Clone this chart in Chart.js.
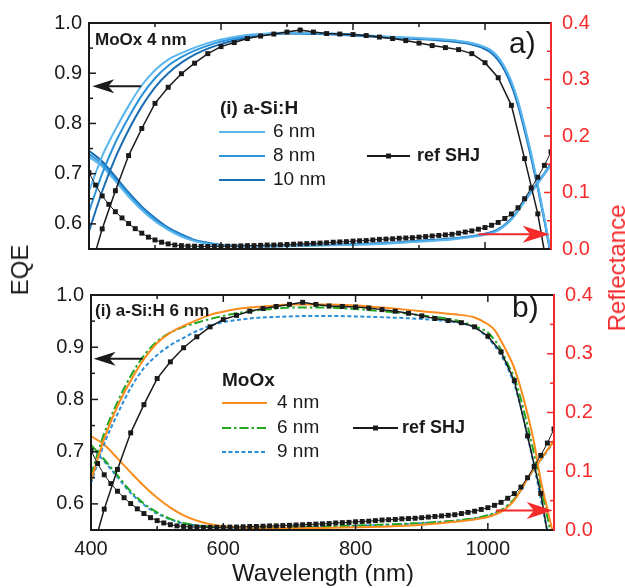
<!DOCTYPE html>
<html>
<head>
<meta charset="utf-8">
<script src="https://cdn.jsdelivr.net/npm/chart.js@4.4.1/dist/chart.umd.min.js"></script>
<style>
  body { margin: 0; background: #fff; }
  #wrap { position: relative; width: 625px; height: 588px; overflow: hidden; font-family: "Liberation Sans", Arial, sans-serif; }
  canvas { position: absolute; left: 0; }
  #chartA { top: 0; }
  #chartB { top: 272px; }
  .title { position: absolute; font-size: 24px; color: #1a1a1a; white-space: nowrap; transform: translate(-50%, -50%); }
  .rot { transform: translate(-50%, -50%) rotate(-90deg); }
</style>
</head>
<body>
<div id="wrap">
  <canvas id="chartA" width="625" height="272"></canvas>
  <canvas id="chartB" width="625" height="316"></canvas>
  <div class="title rot" style="left:20px; top:270px;">EQE</div>
  <div class="title rot" style="left:617px; top:268px; color:#f52a2a;">Reflectance</div>
  <div class="title" style="left:323px; top:573px;">Wavelength (nm)</div>
</div>
<script>
const INK = "#1a1a1a";
const RED = "#f52a2a";
const FONT = "'Liberation Sans', Arial, sans-serif";
Chart.defaults.font.family = FONT;

// tick labels
const wlTicks = [400, 600, 800, 1000];
const eqeTicks = [0.6, 0.7, 0.8, 0.9, 1.0];
const reflTicks = [0, 0.1, 0.2, 0.3, 0.4];
const wlMarks = [500, 600, 700, 800, 900, 1000];
const eqeMarks = [0.6, 0.65, 0.7, 0.75, 0.8, 0.85, 0.9, 0.95];
const reflMarks = [0.05, 0.1, 0.15, 0.2, 0.25, 0.3, 0.35];

// reference SHJ cell (same in both panels)
const wlRefEqe = [400,420,440,460,480,500,520,540,560,580,600,620,640,660,680,700,720,740,760,780,800,820,840,860,880,900,920,940,960,980,1000,1020,1040,1060,1080,1100];
const refEqe = [0.50,0.59,0.666,0.736,0.79,0.84,0.872,0.899,0.92,0.939,0.953,0.961,0.969,0.974,0.978,0.982,0.986,0.982,0.979,0.978,0.977,0.975,0.972,0.969,0.965,0.96,0.955,0.951,0.947,0.939,0.921,0.891,0.836,0.73,0.62,0.47];
const wlRefR = [400,410,420,430,440,450,460,470,480,490,500,510,520,530,540,550,560,570,580,590,600,610,620,630,640,650,660,670,680,690,700,710,720,730,740,750,760,770,780,790,800,810,820,830,840,850,860,870,880,890,900,910,920,930,940,950,960,970,980,990,1000,1010,1020,1030,1040,1050,1060,1070,1080,1090,1100];
const refR = [0.135,0.113,0.094,0.079,0.066,0.055,0.045,0.036,0.028,0.021,0.016,0.012,0.009,0.007,0.006,0.005,0.005,0.0045,0.0045,0.0045,0.0045,0.005,0.005,0.0055,0.006,0.006,0.0065,0.007,0.007,0.0075,0.008,0.0085,0.009,0.0095,0.01,0.0105,0.011,0.012,0.0125,0.013,0.014,0.0145,0.015,0.016,0.017,0.0175,0.018,0.019,0.0195,0.02,0.021,0.022,0.023,0.024,0.025,0.026,0.028,0.03,0.032,0.035,0.038,0.042,0.047,0.054,0.062,0.073,0.089,0.108,0.127,0.148,0.172];

// wavelengths of the sample curves
const wl = [400,420,440,460,480,500,520,540,560,580,600,620,640,660,680,700,750,800,850,900,950,980,1000,1010,1020,1030,1040,1050,1060,1070,1080,1090,1100];

// panel a) MoOx 4 nm, (i) a-Si:H 6 / 8 / 10 nm
const namesA = ["6 nm", "8 nm", "10 nm"];
const a6Eqe = [0.665,0.735,0.788,0.835,0.876,0.906,0.927,0.94,0.951,0.96,0.967,0.972,0.976,0.978,0.98,0.981,0.98,0.977,0.973,0.97,0.966,0.96,0.952,0.945,0.932,0.912,0.884,0.845,0.795,0.74,0.678,0.612,0.542];
const a8Eqe = [0.625,0.70,0.762,0.812,0.856,0.89,0.915,0.932,0.945,0.955,0.963,0.969,0.974,0.977,0.979,0.98,0.979,0.976,0.972,0.969,0.965,0.959,0.951,0.943,0.93,0.91,0.881,0.842,0.792,0.737,0.675,0.609,0.539];
const a10Eqe = [0.585,0.665,0.732,0.787,0.834,0.872,0.9,0.921,0.937,0.949,0.958,0.965,0.971,0.975,0.978,0.979,0.978,0.975,0.971,0.968,0.963,0.957,0.948,0.94,0.926,0.905,0.876,0.836,0.786,0.731,0.671,0.606,0.536];
const a6R = [0.163,0.146,0.12,0.093,0.069,0.049,0.034,0.022,0.014,0.009,0.0065,0.005,0.0045,0.0045,0.0045,0.005,0.006,0.0075,0.0095,0.013,0.017,0.021,0.025,0.028,0.033,0.041,0.052,0.067,0.084,0.1,0.116,0.132,0.148];
const a8R = [0.168,0.15,0.124,0.097,0.072,0.052,0.036,0.024,0.015,0.01,0.007,0.0055,0.005,0.005,0.005,0.0055,0.0065,0.008,0.01,0.014,0.018,0.022,0.026,0.029,0.034,0.042,0.053,0.068,0.085,0.101,0.117,0.133,0.15];
const a10R = [0.174,0.155,0.128,0.1,0.075,0.055,0.038,0.026,0.016,0.011,0.0075,0.006,0.0055,0.0055,0.0055,0.006,0.007,0.0085,0.0105,0.0145,0.0185,0.0225,0.027,0.03,0.035,0.043,0.054,0.069,0.086,0.102,0.118,0.134,0.151];

// panel b) (i) a-Si:H 6 nm, MoOx 4 / 6 / 9 nm
const namesB = ["4 nm", "6 nm", "9 nm"];
const b4Eqe = [0.645,0.725,0.787,0.836,0.877,0.908,0.928,0.941,0.952,0.962,0.968,0.973,0.976,0.978,0.98,0.982,0.982,0.98,0.975,0.969,0.963,0.957,0.944,0.933,0.912,0.888,0.86,0.82,0.772,0.716,0.645,0.59,0.535];
const b6Eqe = [0.655,0.735,0.795,0.845,0.884,0.911,0.928,0.939,0.947,0.954,0.96,0.965,0.969,0.972,0.974,0.976,0.976,0.973,0.968,0.961,0.952,0.94,0.928,0.914,0.895,0.868,0.842,0.8,0.75,0.695,0.635,0.575,0.515];
const b9Eqe = [0.64,0.715,0.772,0.822,0.86,0.885,0.904,0.918,0.931,0.941,0.948,0.952,0.955,0.957,0.958,0.959,0.96,0.959,0.957,0.954,0.948,0.938,0.918,0.903,0.885,0.86,0.828,0.785,0.73,0.672,0.61,0.548,0.49];
const b4R = [0.16,0.145,0.122,0.098,0.075,0.055,0.038,0.025,0.016,0.01,0.0065,0.0045,0.0035,0.003,0.003,0.003,0.0035,0.0045,0.006,0.009,0.014,0.018,0.022,0.026,0.031,0.039,0.051,0.068,0.088,0.105,0.12,0.136,0.152];
const b6R = [0.145,0.12,0.093,0.066,0.045,0.03,0.019,0.012,0.008,0.0055,0.0045,0.004,0.004,0.004,0.0045,0.005,0.006,0.0075,0.0095,0.012,0.016,0.02,0.025,0.029,0.034,0.042,0.053,0.069,0.088,0.105,0.12,0.136,0.152];
const b9R = [0.142,0.117,0.09,0.063,0.043,0.028,0.018,0.011,0.0075,0.005,0.004,0.0035,0.0035,0.0035,0.004,0.0045,0.0055,0.007,0.009,0.0115,0.0155,0.0195,0.024,0.028,0.033,0.041,0.052,0.068,0.087,0.104,0.119,0.135,0.151];

const blues = ["#5cb6ee", "#2b93dc", "#1b6db3"];
const moColors = ["#fb8c1c", "#22a722", "#2b8fd8"];
const moDash = [[], [9, 3, 2.5, 3], [4, 2.5]];

const pts = (xs, ys) => xs.map((x, i) => ({ x, y: ys[i] }));

function curve(xs, ys, axis, color, dash) {
  return {
    data: pts(xs, ys), yAxisID: axis, borderColor: color, borderWidth: 2,
    borderDash: dash || [], pointRadius: 0, cubicInterpolationMode: "monotone", fill: false
  };
}
function refSet(xs, ys, axis, width) {
  return {
    data: pts(xs, ys), yAxisID: axis, borderColor: INK, borderWidth: width,
    pointStyle: "rect", pointRadius: 3.5, pointBackgroundColor: INK, pointBorderWidth: 0, fill: false
  };
}

function line(ctx, x1, y1, x2, y2) {
  ctx.beginPath(); ctx.moveTo(x1, y1); ctx.lineTo(x2, y2); ctx.stroke();
}

function arrow(ctx, x1, x2, y, color, len, h) {
  const d = Math.sign(x2 - x1);
  ctx.strokeStyle = color; ctx.fillStyle = color; ctx.lineWidth = 2;
  line(ctx, x1, y, x2 - d * len * 0.6, y);
  ctx.beginPath();
  ctx.moveTo(x2, y);
  ctx.lineTo(x2 - d * len, y - h / 2);
  ctx.lineTo(x2 - d * len * 0.72, y);
  ctx.lineTo(x2 - d * len, y + h / 2);
  ctx.closePath();
  ctx.fill();
}

// box with inward ticks, right side red
const frame = {
  id: "frame",
  afterDatasetsDraw(chart) {
    const { ctx, chartArea: a, scales } = chart;
    ctx.save();
    ctx.lineWidth = 1.5;
    ctx.strokeStyle = INK;
    wlMarks.forEach(v => {
      const p = scales.x.getPixelForValue(v);
      const len = v % 200 === 0 ? 7 : 4;
      line(ctx, p, a.bottom, p, a.bottom - len);
      line(ctx, p, a.top, p, a.top + len);
    });
    eqeMarks.forEach(v => {
      const p = scales.y.getPixelForValue(v);
      const len = Math.round(v * 100) % 10 === 0 ? 7 : 4;
      line(ctx, a.left, p, a.left + len, p);
    });
    ctx.strokeStyle = RED;
    reflMarks.forEach(v => {
      const p = scales.y1.getPixelForValue(v);
      const len = Math.round(v * 100) % 10 === 0 ? 7 : 4;
      line(ctx, a.right, p, a.right - len, p);
    });
    ctx.lineWidth = 2;
    ctx.strokeStyle = INK;
    ctx.beginPath();
    ctx.moveTo(a.right, a.top); ctx.lineTo(a.left, a.top);
    ctx.lineTo(a.left, a.bottom); ctx.lineTo(a.right, a.bottom);
    ctx.stroke();
    ctx.strokeStyle = RED;
    line(ctx, a.right, a.top - 1, a.right, a.bottom + 1);
    ctx.restore();
  }
};

// labels, legend keys and arrows
const notes = {
  id: "notes",
  afterDatasetsDraw(chart, args, o) {
    const { ctx, chartArea: a, scales } = chart;
    const L = a.left, T = a.top;
    ctx.save();
    ctx.textBaseline = "middle";
    ctx.textAlign = "left";
    o.texts.forEach(t => {
      ctx.font = t.font + " " + FONT;
      ctx.fillStyle = INK;
      ctx.fillText(t.t, L + t.dx, T + t.dy);
    });
    o.keys.forEach(k => {
      ctx.strokeStyle = k.color; ctx.lineWidth = 2;
      ctx.setLineDash(k.dash || []);
      line(ctx, L + k.x1, T + k.dy, L + k.x2, T + k.dy);
      ctx.setLineDash([]);
      if (k.marker) {
        ctx.fillStyle = k.color;
        ctx.fillRect(L + (k.x1 + k.x2) / 2 - 2.5, T + k.dy - 2.5, 5, 5);
      }
    });
    o.arrows.forEach(w => {
      arrow(ctx, scales.x.getPixelForValue(w.from), scales.x.getPixelForValue(w.to),
        scales[w.axis].getPixelForValue(w.at), w.color, w.len, w.h);
    });
    ctx.restore();
  }
};

function makeChart(id, datasets, cfg) {
  return new Chart(document.getElementById(id), {
    type: "line",
    data: { datasets },
    options: {
      responsive: false,
      animation: false,
      events: [],
      layout: { padding: cfg.pad },
      plugins: { legend: { display: false }, tooltip: { enabled: false }, notes: cfg.notes },
      scales: {
        x: {
          type: "linear", min: 400, max: 1100, display: cfg.showX,
          grid: { display: false, drawTicks: false }, border: { display: false },
          afterBuildTicks: s => { s.ticks = wlTicks.map(v => ({ value: v })); },
          ticks: { font: { size: 20 }, color: INK, padding: 7, maxRotation: 0, callback: v => String(v) },
          afterFit: s => { s.height = cfg.xH; }
        },
        y: {
          position: "left", min: 0.55, max: 1.0,
          grid: { display: false, drawTicks: false }, border: { display: false },
          afterBuildTicks: s => { s.ticks = eqeTicks.map(v => ({ value: v })); },
          ticks: { font: { size: 20 }, color: INK, padding: 7, callback: v => v.toFixed(1) },
          afterFit: s => { s.width = cfg.left; }
        },
        y1: {
          position: "right", min: 0, max: 0.4,
          grid: { display: false, drawTicks: false }, border: { display: false },
          afterBuildTicks: s => { s.ticks = reflTicks.map(v => ({ value: v })); },
          ticks: { font: { size: 20 }, color: RED, padding: 11, callback: v => v.toFixed(1) },
          afterFit: s => { s.width = cfg.right; }
        }
      }
    },
    plugins: [frame, notes]
  });
}

// panel a)
makeChart("chartA", [
  refSet(wlRefEqe, refEqe, "y", 1.5),
  refSet(wlRefR, refR, "y1", 1),
  curve(wl, a6Eqe, "y", blues[0]),
  curve(wl, a8Eqe, "y", blues[1]),
  curve(wl, a10Eqe, "y", blues[2]),
  curve(wl, a6R, "y1", blues[0]),
  curve(wl, a8R, "y1", blues[1]),
  curve(wl, a10R, "y1", blues[2])
], {
  pad: { top: 16, bottom: 6, left: 0, right: 0 },
  showX: false, xH: 0, left: 89, right: 74,
  notes: {
    texts: [
      { t: "MoOx 4 nm", dx: 6, dy: 17, font: "bold 17px" },
      { t: "a)", dx: 420, dy: 22, font: "30px" },
      { t: "(i) a-Si:H", dx: 131, dy: 86, font: "bold 19px" },
      { t: namesA[0], dx: 184, dy: 109, font: "19px" },
      { t: namesA[1], dx: 184, dy: 133, font: "19px" },
      { t: namesA[2], dx: 184, dy: 157, font: "19px" },
      { t: "ref SHJ", dx: 328, dy: 133, font: "bold 18px" }
    ],
    keys: [
      { x1: 130, x2: 176, dy: 109, color: blues[0] },
      { x1: 130, x2: 176, dy: 133, color: blues[1] },
      { x1: 130, x2: 176, dy: 157, color: blues[2] },
      { x1: 278, x2: 321, dy: 133, color: INK, marker: true }
    ],
    arrows: [
      { from: 479, to: 405, at: 0.874, axis: "y", color: INK, len: 22, h: 14 },
      { from: 990, to: 1098, at: 0.026, axis: "y1", color: RED, len: 27, h: 17 }
    ]
  }
});

// panel b)
makeChart("chartB", [
  refSet(wlRefEqe, refEqe, "y", 1.5),
  refSet(wlRefR, refR, "y1", 1),
  curve(wl, b4Eqe, "y", moColors[0], moDash[0]),
  curve(wl, b6Eqe, "y", moColors[1], moDash[1]),
  curve(wl, b9Eqe, "y", moColors[2], moDash[2]),
  curve(wl, b4R, "y1", moColors[0], moDash[0]),
  curve(wl, b6R, "y1", moColors[1], moDash[1]),
  curve(wl, b9R, "y1", moColors[2], moDash[2])
], {
  pad: { top: 9, bottom: 0, left: 0, right: 0 },
  showX: true, xH: 58, left: 91, right: 71,
  notes: {
    texts: [
      { t: "(i) a-Si:H 6 nm", dx: 4, dy: 16, font: "bold 17px" },
      { t: "b)", dx: 421, dy: 14, font: "30px" },
      { t: "MoOx", dx: 131, dy: 86, font: "bold 19px" },
      { t: namesB[0], dx: 186, dy: 108, font: "19px" },
      { t: namesB[1], dx: 186, dy: 133, font: "19px" },
      { t: namesB[2], dx: 186, dy: 157, font: "19px" },
      { t: "ref SHJ", dx: 311, dy: 133, font: "bold 18px" }
    ],
    keys: [
      { x1: 131, x2: 176, dy: 108, color: moColors[0], dash: moDash[0] },
      { x1: 131, x2: 176, dy: 133, color: moColors[1], dash: moDash[1] },
      { x1: 131, x2: 176, dy: 157, color: moColors[2], dash: moDash[2] },
      { x1: 262, x2: 307, dy: 133, color: INK, marker: true }
    ],
    arrows: [
      { from: 478, to: 404, at: 0.878, axis: "y", color: INK, len: 22, h: 14 },
      { from: 1012, to: 1098, at: 0.033, axis: "y1", color: RED, len: 26, h: 17 }
    ]
  }
});
</script>
</body>
</html>
